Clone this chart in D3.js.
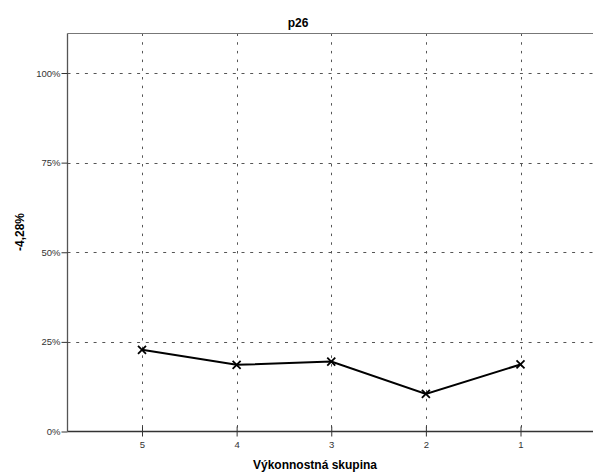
<!DOCTYPE html>
<html><head><meta charset="utf-8">
<script src="https://cdn.jsdelivr.net/npm/d3@7"></script>
<style>body{margin:0;background:#fff;} svg{display:block;font-family:"Liberation Sans",Arial,sans-serif;}</style>
</head><body>
<svg id="chart" width="593" height="474"></svg>
<script>
const categories = ["5","4","3","2","1"];
const values = [0.228, 0.186, 0.195, 0.105, 0.187];
const yTicks = [0, 0.25, 0.5, 0.75, 1.0];
const title = "p26";
const xTitle = "Výkonnostná skupina";
const yTitle = "-4,28%";

(function(){
const svg = d3.select("#chart");
const pL = 67.5, pT = 33.5, pR = 596, pB = 431.5;
const x = d3.scalePoint().domain(categories).range([142, 520.5]);
const y = d3.scaleLinear().domain([0, 1]).range([pB, 73]);

// grid
const g = svg.append("g");
g.selectAll("line.hg").data(yTicks.filter(d=>d>0)).enter().append("line")
  .attr("x1", pL).attr("x2", pR).attr("y1", d=>Math.round(y(d))+0.5).attr("y2", d=>Math.round(y(d))+0.5)
  .attr("stroke", "#555").attr("stroke-width", 1).attr("stroke-dasharray", "3,5.7");
g.selectAll("line.vg").data(categories).enter().append("line")
  .attr("x1", d=>Math.round(x(d))+0.5).attr("x2", d=>Math.round(x(d))+0.5).attr("y1", pT).attr("y2", pB)
  .attr("stroke", "#555").attr("stroke-width", 1).attr("stroke-dasharray", "2.5,6.2");

// frame
svg.append("line").attr("x1", pL).attr("x2", pR).attr("y1", pT).attr("y2", pT).attr("stroke", "#777").attr("stroke-width", 1.2);
// axes
const yAxis = d3.axisLeft(y).tickValues(yTicks).tickFormat(d3.format(".0%")).tickSize(6).tickPadding(1);
const ya = svg.append("g").attr("transform", `translate(${pL},0)`).call(yAxis);
ya.select(".domain").attr("d", `M0,${pT}V${pB}`).attr("stroke", "#555").attr("stroke-width", 1.3);
ya.selectAll(".tick line").attr("stroke", "#333");
ya.selectAll("text").attr("font-size", 9.5).attr("fill", "#333").attr("font-family", "Liberation Sans, Arial, sans-serif");

const xAxis = d3.axisBottom(x).tickSize(6).tickPadding(4);
const xa = svg.append("g").attr("transform", `translate(0,${pB})`).call(xAxis);
xa.select(".domain").attr("d", `M${pL},0H${pR}`).attr("stroke", "#333").attr("stroke-width", 1.3);
xa.selectAll(".tick line").attr("y1", -5).attr("y2", 5).attr("stroke", "#333");
xa.selectAll("text").attr("font-size", 9.5).attr("fill", "#333").attr("font-family", "Liberation Sans, Arial, sans-serif");

// line
svg.append("path").datum(values)
  .attr("d", d3.line().x((d,i)=>x(categories[i])).y(d=>y(d)))
  .attr("fill", "none").attr("stroke", "#000").attr("stroke-width", 2);
svg.selectAll("path.m").data(values).enter().append("path")
  .attr("d", "M-4,-4L4,4M-4,4L4,-4")
  .attr("transform", (d,i)=>`translate(${x(categories[i])},${y(d)})`)
  .attr("stroke", "#000").attr("stroke-width", 1.8).attr("fill", "none");

// titles
svg.append("text").attr("x", 298).attr("y", 27).attr("text-anchor", "middle")
  .attr("font-size", 12).attr("font-weight", "bold").text(title);
svg.append("text").attr("x", 315).attr("y", 469).attr("text-anchor", "middle")
  .attr("font-size", 12).attr("font-weight", "bold").text(xTitle);
svg.append("text").attr("transform", "translate(24,232) rotate(-90)").attr("text-anchor", "middle")
  .attr("font-size", 12).attr("font-weight", "bold").text(yTitle);
})();
</script>
</body></html>
